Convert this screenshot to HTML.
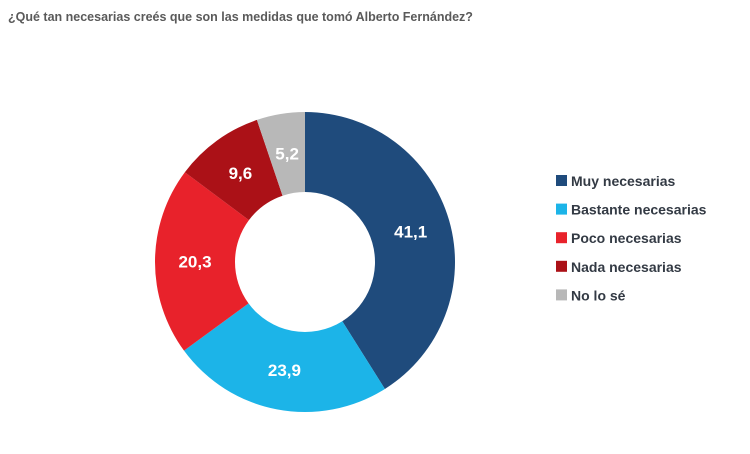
<!DOCTYPE html>
<html><head><meta charset="utf-8"><style>
body{margin:0;width:750px;height:454px;background:#fff;overflow:hidden;font-family:"Liberation Sans",sans-serif}
svg{display:block}
</style></head><body>
<svg width="750" height="454">
<text x="8" y="21" font-size="12.5" font-weight="bold" fill="#5a5a5a">¿Qué tan necesarias creés que son las medidas que tomó Alberto Fernández?</text>
<g id="slices"></g><g id="labels"></g><g id="legend"></g>
</svg>
<script>
const categories=["Muy necesarias","Bastante necesarias","Poco necesarias","Nada necesarias","No lo sé"];
const values=[41.1,23.9,20.3,9.6,5.2];
const valueLabels=["41,1","23,9","20,3","9,6","5,2"];
const colors=["#1f4b7c","#1cb4e8","#e8222b","#ab1117","#b8b8b8"];
const cx=305,cy=262,R=150,r=70,NS="http://www.w3.org/2000/svg";
const total=values.reduce((a,b)=>a+b,0);
function pt(a,rad){return [cx+rad*Math.sin(a),cy-rad*Math.cos(a)];}
let a0=0;
const gs=document.getElementById('slices'),gl=document.getElementById('labels'),gL=document.getElementById('legend');
values.forEach((v,i)=>{
 const a1=a0+v/total*2*Math.PI,lg=(a1-a0)>Math.PI?1:0;
 const [x1,y1]=pt(a0,R),[x2,y2]=pt(a1,R),[x3,y3]=pt(a1,r),[x4,y4]=pt(a0,r);
 const p=document.createElementNS(NS,'path');
 p.setAttribute('d',`M${x1},${y1}A${R},${R} 0 ${lg} 1 ${x2},${y2}L${x3},${y3}A${r},${r} 0 ${lg} 0 ${x4},${y4}Z`);
 p.setAttribute('fill',colors[i]);
 
 
 gs.appendChild(p);
 const [lx,ly]=pt((a0+a1)/2,(R+r)/2);
 const t=document.createElementNS(NS,'text');
 t.setAttribute('x',lx);t.setAttribute('y',ly+6);t.setAttribute('text-anchor','middle');
 t.setAttribute('font-size','17');t.setAttribute('font-weight','bold');t.setAttribute('fill','#fff');
 t.textContent=valueLabels[i];
 
 
 gl.appendChild(t);
 const y=181+i*28.6;
 const s=document.createElementNS(NS,'rect');
 s.setAttribute('x',556);s.setAttribute('y',y-6);s.setAttribute('width',11);s.setAttribute('height',11);s.setAttribute('fill',colors[i]);
 
 
 gL.appendChild(s);
 const lt=document.createElementNS(NS,'text');
 lt.setAttribute('x',571);lt.setAttribute('y',y+5);lt.setAttribute('font-size','14');lt.setAttribute('font-weight','bold');lt.setAttribute('fill','#333a44');
 lt.textContent=categories[i];
 
 
 gL.appendChild(lt);
 a0=a1;
});
</script>
</body></html>
